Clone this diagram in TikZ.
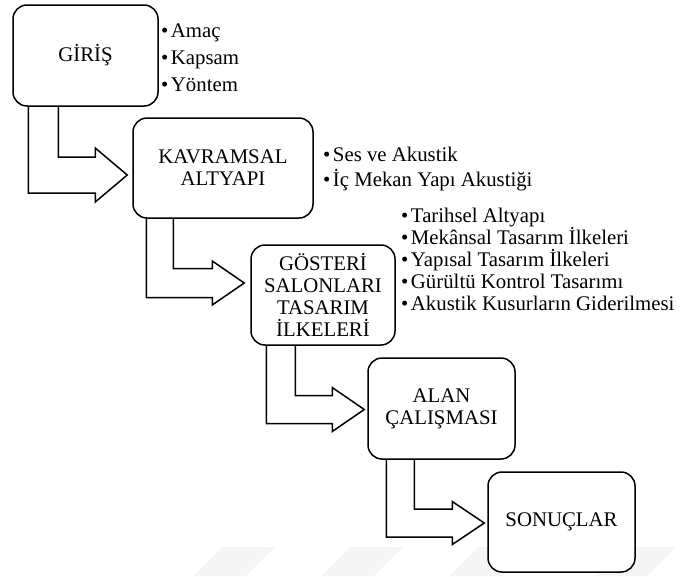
\documentclass[tikz,border=0pt]{standalone}
\usepackage{fontspec}
\setmainfont{Liberation Serif}
\usetikzlibrary{calc}
\newcommand{\bul}{\textbullet\hspace{2.5pt}}
% #1 from, #2 to, #3 outer x offset, #4 vertical shaft width, #5 horizontal shaft width,
% #6 head overhang, #7 tip dx from target west, #8 tip dy (down positive)
\newcommand{\bentarrow}[8]{%
  \draw[arrowline] let \p1=(#1.south west), \p3=($(#2.west)+(#7,#8)$) in
    ({\x1+#3pt},\y1) -- ({\x1+#3pt},{\y3-#5pt/2}) -- ({\x3-32pt},{\y3-#5pt/2})
    -- ({\x3-32pt},{\y3-#5pt/2-#6pt}) -- (\x3,\y3) -- ({\x3-32pt},{\y3+#5pt/2+#6pt})
    -- ({\x3-32pt},{\y3+#5pt/2}) -- ({\x1+#3pt+#4pt},{\y3+#5pt/2}) -- ({\x1+#3pt+#4pt},\y1);
}
\begin{document}
\begin{tikzpicture}[x=1pt,y=-1pt,
  box/.style={draw, line width=1.5pt, rounded corners=14pt, fill=white,
    minimum width=#1, minimum height=100pt, align=center, inner sep=0pt,
    font=\fontsize{20.8}{21.8}\selectfont},
  bullets/.style={anchor=west, align=left, inner sep=0pt},
  arrowline/.style={draw, line width=1.5pt, line join=miter},
  wmark/.style={fill=black!4, draw=none}]
\useasboundingbox (0,0) rectangle (682,576);
% faint watermark
\fill[wmark] (222,547) -- (275,547) -- (246,576) -- (193,576) -- cycle;
\fill[wmark] (350,547) -- (403,547) -- (374,576) -- (321,576) -- cycle;
\fill[wmark] (478,547) -- (531,547) -- (502,576) -- (449,576) -- cycle;
\fill[wmark] (623,547) -- (676,547) -- (647,576) -- (594,576) -- cycle;
% boxes
\node[box=145pt, minimum height=101pt] (b1) at (85.5,55.5) {GİRİŞ};
\node[box=180pt] (b2) at (223,168) {KAVRAMSAL\\ALTYAPI};
\node[box=144pt] (b3) at (323,295) {GÖSTERİ\\SALONLARI\\TASARIM\\İLKELERİ};
\node[box=147pt, minimum height=101pt] (b4) at (441.5,408.5) {ALAN\\ÇALIŞMASI};
\node[box=147pt] (b5) at (561.5,522) {SONUÇLAR};
% bullet lists
\node[bullets, font=\fontsize{20.8}{27}\selectfont] (l1) at (161,58) {\bul Amaç\\\bul Kapsam\\\bul Yöntem};
\node[bullets, font=\fontsize{20.8}{25}\selectfont] (l2) at (323,169) {\bul Ses ve Akustik\\\bul İç Mekan Yapı Akustiği};
\node[bullets, font=\fontsize{20.8}{22}\selectfont] (l3) at (401,259) {\bul Tarihsel Altyapı\\\bul Mekânsal Tasarım İlkeleri\\\bul Yapısal Tasarım İlkeleri\\\bul Gürültü Kontrol Tasarımı\\\bul Akustik Kusurların Giderilmesi};
% bent arrows
\bentarrow{b1}{b2}{16}{30}{36}{9}{-5}{7}
\bentarrow{b2}{b3}{14}{27}{29}{7.5}{-6}{-12}
\bentarrow{b3}{b4}{16}{29}{28}{8}{-3}{1}
\bentarrow{b4}{b5}{19}{28}{28}{7.5}{-3}{1}
\end{tikzpicture}
\end{document}
